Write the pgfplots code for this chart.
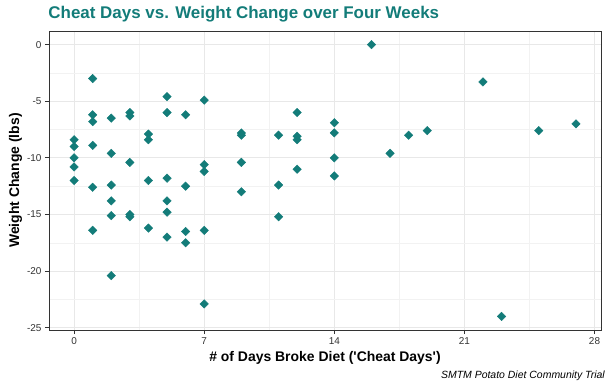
\documentclass[border=0pt]{standalone}
\usepackage{pgfplots}
\pgfplotsset{compat=1.18}
\usepackage{fontspec}
\setmainfont{Liberation Sans}
\definecolor{teal1}{RGB}{19,124,121}
\pgfplotstableread{
d w
0 -8.4
0 -9.0
0 -10.0
0 -10.8
0 -12.0
1 -3.0
1 -6.2
1 -6.8
1 -8.9
1 -12.6
1 -16.4
2 -6.5
2 -9.6
2 -12.4
2 -13.8
2 -15.1
2 -20.4
3 -6.0
3 -6.3
3 -10.4
3 -15.0
3 -15.2
4 -7.9
4 -8.4
4 -12.0
4 -16.2
5 -4.6
5 -6.0
5 -11.8
5 -13.8
5 -14.8
5 -17.0
6 -6.2
6 -12.5
6 -16.5
6 -17.5
7 -4.9
7 -10.6
7 -11.2
7 -16.4
7 -22.9
9 -7.8
9 -8.0
9 -10.4
9 -13.0
11 -8.0
11 -12.4
11 -15.2
12 -6.0
12 -8.1
12 -8.4
12 -11.0
14 -6.9
14 -7.8
14 -10.0
14 -11.6
16 0.0
17 -9.6
18 -8.0
19 -7.6
22 -3.3
23 -24.0
25 -7.6
27 -7.0
}\datatable
\begin{document}
\begin{tikzpicture}
\useasboundingbox (-49bp,-60bp) rectangle (560bp,330bp);
\begin{axis}[
  at={(0,0)}, anchor=south west,
  scale only axis, width=552bp, height=299bp,
  xmin=-1.35, xmax=28.35, ymin=-25.2, ymax=1.2,
  xtick={0,7,14,21,28}, ytick={-25,-20,-15,-10,-5,0},
  minor xtick={3.5,10.5,17.5,24.5},
  minor ytick={-22.5,-17.5,-12.5,-7.5,-2.5},
  grid=both,
  major grid style={color=black!9, line width=1bp},
  minor grid style={color=black!5, line width=0.5bp},
  axis line style={draw=black!80, line width=0.9bp},
  tick align=outside, xtick pos=left, ytick pos=left,
  major tick length=4bp, minor tick length=0pt,
  every tick/.style={black!80, line width=0.8bp},
  tick label style={font=\fontsize{10}{12}\selectfont, text=black!80},
  /pgf/number format/assume math mode=true,
  axis on top=false,
]
\addplot[only marks, mark=square*, mark size=3.0bp,
  mark options={rotate=45, fill=teal1, draw=teal1}] table[x=d, y=w] {\datatable};
\end{axis}
\node[anchor=base west, inner sep=0, text=teal1, font=\fontsize{17}{20}\selectfont\bfseries] at (-0.7bp,311bp) {Cheat Days vs. Weight Change over Four Weeks};
\node[anchor=base, inner sep=0, font=\fontsize{14}{16}\selectfont\bfseries] at (276bp,-31.7bp) {\# of Days Broke Diet (\textquotesingle Cheat Days\textquotesingle)};
\node[anchor=base, inner sep=0, rotate=90, font=\fontsize{14}{16}\selectfont\bfseries] at (-30bp,149.5bp) {Weight Change (lbs)};
\node[anchor=base east, inner sep=0, font=\fontsize{10.5}{12}\selectfont\itshape] at (556bp,-48.3bp) {SMTM Potato Diet Community Trial};
\end{tikzpicture}
\end{document}
